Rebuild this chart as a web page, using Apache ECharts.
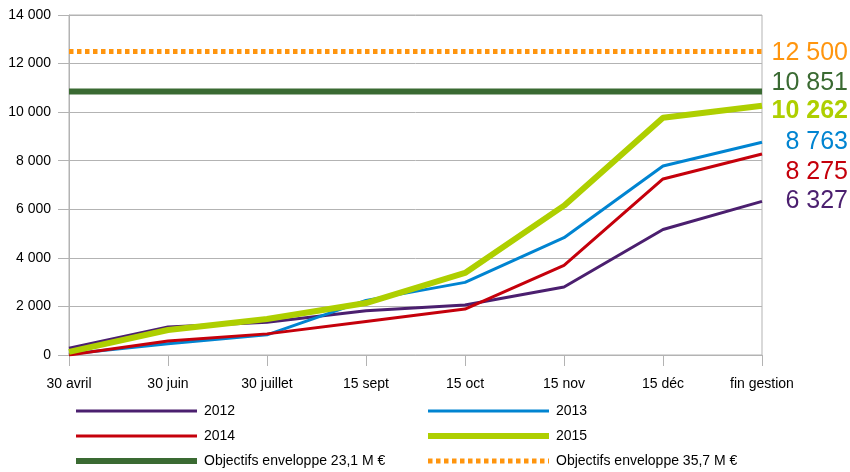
<!DOCTYPE html>
<html>
<head>
<meta charset="utf-8">
<script src="https://cdn.jsdelivr.net/npm/echarts@6/dist/echarts.min.js"></script>
<style>
  html, body { margin: 0; padding: 0; background: #fff; }
  #chart { width: 850px; height: 472px; }
</style>
</head>
<body>
<div id="chart"></div>
<script>
// catégories (axe x)
var categories = ["30 avril", "30 juin", "30 juillet", "15 sept", "15 oct", "15 nov", "15 déc", "fin gestion"];

// cumuls par année
var data2012 = [280, 1150, 1350, 1820, 2060, 2800, 5170, 6327];
var data2013 = [40, 460, 830, 2250, 2990, 4830, 7780, 8763];
var data2014 = [0, 580, 870, 1380, 1890, 3690, 7250, 8275];
var data2015 = [130, 1030, 1480, 2140, 3380, 6150, 9770, 10262];

// objectifs (lignes horizontales)
var objectif231 = [10851, 10851, 10851, 10851, 10851, 10851, 10851, 10851];
var objectif357 = [12500, 12500, 12500, 12500, 12500, 12500, 12500, 12500];

var FONT = "Liberation Sans";

function fmt(v) {
  return String(v).replace(/\B(?=(\d{3})+(?!\d))/g, " ");
}

function endLabel(color, dy, bold) {
  return {
    show: true,
    distance: 0,
    offset: [86, dy],
    align: "right",
    verticalAlign: "middle",
    color: color,
    fontFamily: FONT,
    fontSize: 25,
    fontWeight: bold ? "bold" : "normal",
    formatter: function (p) { return fmt(p.value); }
  };
}

function lineSerie(name, data, color, width, type, dy, bold) {
  return {
    name: name,
    type: "line",
    data: data,
    symbol: "none",
    smooth: false,
    lineStyle: { color: color, width: width, type: type || "solid" },
    itemStyle: { color: color },
    endLabel: endLabel(color, dy, bold)
  };
}

// légende sur deux colonnes
function legendCol(left, names) {
  return {
    orient: "vertical",
    left: left,
    top: 404,
    height: 70,
    padding: 0,
    itemWidth: 121,
    itemHeight: 14,
    itemGap: 11,
    itemStyle: { opacity: 0 },
    lineStyle: { width: "inherit" },
    textStyle: { fontSize: 14, color: "#000", fontFamily: FONT, padding: [0, 0, 0, 2] },
    data: names
  };
}

var chart = echarts.init(document.getElementById("chart"));
chart.setOption({
  animation: false,
  textStyle: { fontFamily: FONT },
  grid: {
    left: 69,
    right: 88,
    top: 15,
    bottom: 117,
    show: true,
    borderColor: "#b3b3b3",
    borderWidth: 1
  },
  legend: [
    legendCol(73, ["2012", "2014", "Objectifs enveloppe 23,1 M €"]),
    legendCol(425, ["2013", "2015", "Objectifs enveloppe 35,7 M €"])
  ],
  xAxis: {
    type: "category",
    data: categories,
    boundaryGap: false,
    axisLine: { show: true, lineStyle: { color: "#b3b3b3" } },
    axisTick: { show: true, length: 11, alignWithLabel: true, lineStyle: { color: "#b3b3b3" } },
    axisLabel: { color: "#000", fontSize: 14, margin: 22, interval: 0 },
    splitLine: { show: false }
  },
  yAxis: {
    type: "value",
    min: 0,
    max: 14000,
    interval: 2000,
    axisLine: { show: true, lineStyle: { color: "#b3b3b3" } },
    axisTick: { show: true, length: 11, lineStyle: { color: "#b3b3b3" } },
    axisLabel: {
      color: "#000",
      fontSize: 14,
      margin: 18,
      formatter: function (v) { return fmt(v); }
    },
    splitLine: { show: true, lineStyle: { color: "#b3b3b3" } }
  },
  series: [
    lineSerie("2012", data2012, "#4b1f6f", 3, "solid", 0),
    lineSerie("2013", data2013, "#0084d1", 3, "solid", 0),
    lineSerie("2014", data2014, "#c5000b", 3, "solid", 18),
    lineSerie("2015", data2015, "#aecf00", 6, "solid", 5, true),
    lineSerie("Objectifs enveloppe 23,1 M €", objectif231, "#3a6a32", 6, "solid", -8),
    lineSerie("Objectifs enveloppe 35,7 M €", objectif357, "#ff950e", 5, [4.5, 3.5], 2)
  ]
});
</script>
</body>
</html>
